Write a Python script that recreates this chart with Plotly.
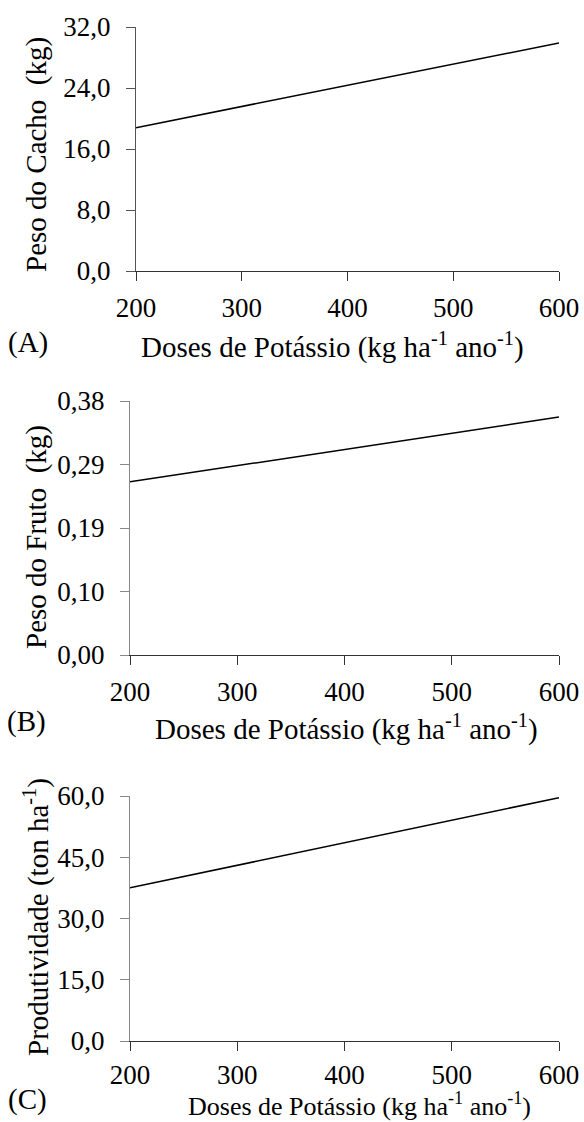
import plotly.graph_objects as go

W, H = 584, 1122

# ---- data ----
doses = [200, 600]
peso_cacho = [18.8, 29.9]
peso_fruto = [0.259, 0.356]
produtividade = [37.5, 59.6]

x_ticks = [200, 300, 400, 500, 600]
a_ticks = [0, 8, 16, 24, 32]
a_ticktext = ["0,0", "8,0", "16,0", "24,0", "32,0"]
b_ticks = [0, 0.095, 0.19, 0.285, 0.38]
b_ticktext = ["0,00", "0,10", "0,19", "0,29", "0,38"]
c_ticks = [0, 15, 30, 45, 60]
c_ticktext = ["0,0", "15,0", "30,0", "45,0", "60,0"]

x_title = "Doses de Potássio (kg ha<sup>-1</sup> ano<sup>-1</sup>)"
y_titles = ["Peso do Cacho\u00a0 (kg)", "Peso do Fruto\u00a0 (kg)", "Produtividade (ton ha<sup>-1</sup>)"]
panel_labels = ["(A)", "(B)", "(C)"]

FONT = "'Liberation Serif', 'Times New Roman', serif"
FS_TICK = 27
FS_TITLE = 29

def px_x(p):
    return p / W

def px_y(p):
    return 1 - p / H

# pixel boxes: (left, right, top, bottom)
boxes = [(136, 559, 27, 271), (130, 559, 401, 655), (130, 559, 796, 1041)]
series = [peso_cacho, peso_fruto, produtividade]
yranges = [[0, 32], [0, 0.38], [0, 60]]
yt = [(a_ticks, a_ticktext), (b_ticks, b_ticktext), (c_ticks, c_ticktext)]
ycolors = ["#555555", "#888888", "#888888"]
x_standoff = [3, 3, 0]
xtitle_size = [FS_TITLE, FS_TITLE, 26]
# annotation positions (pixels)
ytitle_pos = [(36, 155), (36, 537), (36, 917)]
xtitle_pos = [(332, 346), (346, 727), (359, 1104)]
label_pos = [(28, 343), (26, 721), (27, 1099)]

fig = go.Figure()
layout = dict(width=W, height=H, margin=dict(l=0, r=0, t=0, b=0, autoexpand=False),
              paper_bgcolor="white", plot_bgcolor="white", showlegend=False,
              font=dict(family=FONT, size=FS_TICK, color="black"))
annotations = []
for i in range(3):
    sfx = "" if i == 0 else str(i + 1)
    l, r, t, b = boxes[i]
    fig.add_trace(go.Scatter(x=doses, y=series[i], mode="lines",
                             line=dict(color="black", width=1.5),
                             xaxis="x" + sfx, yaxis="y" + sfx, hoverinfo="skip"))
    layout["xaxis" + sfx] = dict(domain=[px_x(l), px_x(r)], anchor="y" + sfx,
                                 range=[200, 600], tickvals=x_ticks, automargin=False,
                                 showgrid=False, zeroline=False, showline=True,
                                 linecolor="#333333", linewidth=1.3,
                                 ticks="outside", ticklen=9, tickcolor="#333333",
                                 tickwidth=1.3, ticklabelstandoff=x_standoff[i],
                                 tickfont=dict(family=FONT, size=FS_TICK, color="black"))
    layout["yaxis" + sfx] = dict(domain=[px_y(b), px_y(t)], anchor="x" + sfx,
                                 range=yranges[i], tickvals=yt[i][0], ticktext=yt[i][1],
                                 automargin=False,
                                 showgrid=False, zeroline=False, showline=True,
                                 linecolor=ycolors[i], linewidth=1.3,
                                 ticks="outside", ticklen=9, tickcolor=ycolors[i],
                                 tickwidth=1.3, ticklabelstandoff=10,
                                 tickfont=dict(family=FONT, size=FS_TICK, color="black"))
    annotations.append(dict(text=y_titles[i], x=px_x(ytitle_pos[i][0]), y=px_y(ytitle_pos[i][1]),
                            xref="paper", yref="paper", showarrow=False, textangle=-90,
                            xanchor="center", yanchor="middle",
                            font=dict(family=FONT, size=FS_TITLE, color="black")))
    annotations.append(dict(text=x_title, x=px_x(xtitle_pos[i][0]), y=px_y(xtitle_pos[i][1]),
                            xref="paper", yref="paper", showarrow=False,
                            xanchor="center", yanchor="middle",
                            font=dict(family=FONT, size=xtitle_size[i], color="black")))
    annotations.append(dict(text=panel_labels[i], x=px_x(label_pos[i][0]), y=px_y(label_pos[i][1]),
                            xref="paper", yref="paper", showarrow=False,
                            xanchor="center", yanchor="middle",
                            font=dict(family=FONT, size=FS_TITLE, color="black")))
layout["annotations"] = annotations
fig.update_layout(**layout)
fig.write_html("out.html", config={"displayModeBar": False},
               post_script="document.body.style.margin='0';document.body.style.overflow='hidden';")
